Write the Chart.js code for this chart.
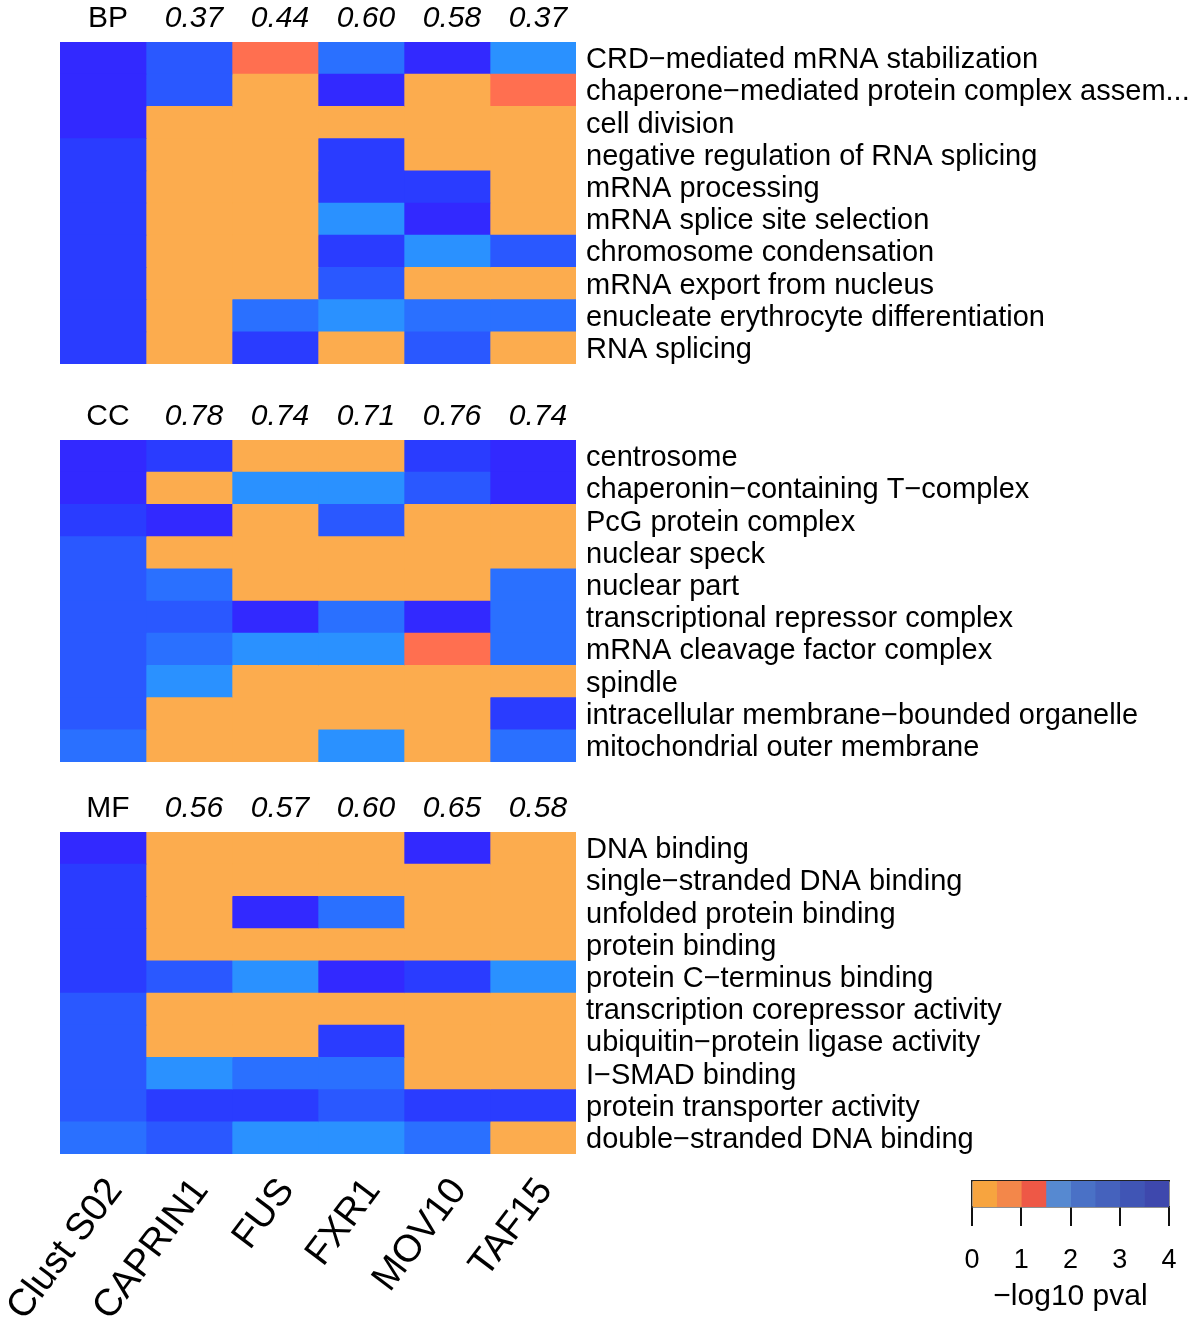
<!DOCTYPE html>
<html>
<head>
<meta charset="utf-8">
<script src="https://cdn.jsdelivr.net/npm/chart.js@4.4.1/dist/chart.umd.min.js"></script>
<style>
  html, body { margin: 0; padding: 0; background: #ffffff; }
  body { width: 1200px; height: 1337px; position: relative; overflow: hidden; }
  .box { position: absolute; }
</style>
</head>
<body>
<div class="box" style="left:0;top:0;width:1200px;height:404px"><canvas id="bp"></canvas></div>
<div class="box" style="left:0;top:398px;width:1200px;height:404px"><canvas id="cc"></canvas></div>
<div class="box" style="left:0;top:790px;width:1200px;height:547px"><canvas id="mf"></canvas></div>
<div class="box" style="left:940px;top:1160px;width:260px;height:177px"><canvas id="legend"></canvas></div>
<script>
// ---- data ----
const columns = ['Clust S02', 'CAPRIN1', 'FUS', 'FXR1', 'MOV10', 'TAF15'];

const bpTerms = [
  'CRD\u2212mediated mRNA stabilization',
  'chaperone\u2212mediated protein complex assem...',
  'cell division',
  'negative regulation of RNA splicing',
  'mRNA processing',
  'mRNA splice site selection',
  'chromosome condensation',
  'mRNA export from nucleus',
  'enucleate erythrocyte differentiation',
  'RNA splicing'
];
const bpHeader = ['BP', '0.37', '0.44', '0.60', '0.58', '0.37'];
// -log10 pval per term (rows) and column
const bpValues = [
  [3.8, 2.7, 1.2, 2.2, 3.8, 1.8],
  [3.8, 2.7, 0.2, 3.8, 0.2, 1.2],
  [3.8, 0.2, 0.2, 0.2, 0.2, 0.2],
  [3.2, 0.2, 0.2, 3.2, 0.2, 0.2],
  [3.2, 0.2, 0.2, 3.2, 3.2, 0.2],
  [3.2, 0.2, 0.2, 1.8, 3.8, 0.2],
  [3.2, 0.2, 0.2, 3.2, 1.8, 2.7],
  [3.2, 0.2, 0.2, 2.7, 0.2, 0.2],
  [3.2, 0.2, 2.2, 1.8, 2.2, 2.2],
  [3.2, 0.2, 3.2, 0.2, 2.7, 0.2]
];

const ccTerms = [
  'centrosome',
  'chaperonin\u2212containing T\u2212complex',
  'PcG protein complex',
  'nuclear speck',
  'nuclear part',
  'transcriptional repressor complex',
  'mRNA cleavage factor complex',
  'spindle',
  'intracellular membrane\u2212bounded organelle',
  'mitochondrial outer membrane'
];
const ccHeader = ['CC', '0.78', '0.74', '0.71', '0.76', '0.74'];
const ccValues = [
  [3.8, 3.2, 0.2, 0.2, 3.2, 3.8],
  [3.8, 0.2, 1.8, 1.8, 2.7, 3.8],
  [3.2, 3.8, 0.2, 2.7, 0.2, 0.2],
  [2.7, 0.2, 0.2, 0.2, 0.2, 0.2],
  [2.7, 2.2, 0.2, 0.2, 0.2, 2.2],
  [2.7, 2.7, 3.8, 2.2, 3.8, 2.2],
  [2.7, 2.2, 1.8, 1.8, 1.2, 2.2],
  [2.7, 1.8, 0.2, 0.2, 0.2, 0.2],
  [2.7, 0.2, 0.2, 0.2, 0.2, 3.2],
  [2.2, 0.2, 0.2, 1.8, 0.2, 2.2]
];

const mfTerms = [
  'DNA binding',
  'single\u2212stranded DNA binding',
  'unfolded protein binding',
  'protein binding',
  'protein C\u2212terminus binding',
  'transcription corepressor activity',
  'ubiquitin\u2212protein ligase activity',
  'I\u2212SMAD binding',
  'protein transporter activity',
  'double\u2212stranded DNA binding'
];
const mfHeader = ['MF', '0.56', '0.57', '0.60', '0.65', '0.58'];
const mfValues = [
  [3.8, 0.2, 0.2, 0.2, 3.8, 0.2],
  [3.2, 0.2, 0.2, 0.2, 0.2, 0.2],
  [3.2, 0.2, 3.8, 2.2, 0.2, 0.2],
  [3.2, 0.2, 0.2, 0.2, 0.2, 0.2],
  [3.2, 2.7, 1.8, 3.8, 3.2, 1.8],
  [2.7, 0.2, 0.2, 0.2, 0.2, 0.2],
  [2.7, 0.2, 0.2, 3.2, 0.2, 0.2],
  [2.7, 1.8, 2.2, 2.2, 0.2, 0.2],
  [2.7, 3.2, 3.2, 2.7, 3.2, 3.2],
  [2.2, 2.7, 1.8, 1.8, 2.2, 0.2]
];

// colour scale: bins of -log10 pval
const binEdges = [0, 0.5, 1, 1.5, 2, 2.5, 3, 3.5, 4];
const cellColors = ['#FCAC4E', '#FE8D4F', '#FF6F50', '#2A91FF', '#2A70FF', '#2A58FF', '#2A3CFF', '#3229FF'];
const legendColors = ['#F7A43F', '#F3874A', '#EE5846', '#5689D1', '#4A71C6', '#4562BD', '#4055B5', '#3E48AD'];
const legendTicks = [0, 1, 2, 3, 4];
const legendTitle = '\u2212log10 pval';

// ---- helpers ----
const FONT = "'Liberation Sans', Arial, Helvetica, sans-serif";
function colorFor(v) {
  for (let i = binEdges.length - 2; i >= 0; i--) {
    if (v >= binEdges[i]) return cellColors[i];
  }
  return cellColors[0];
}

function makePanel(id, terms, header, values, showBottom) {
  const datasets = columns.map((col, j) => ({
    label: col,
    data: terms.map(() => 1),
    backgroundColor: values.map(row => colorFor(row[j])),
    borderWidth: 0,
    categoryPercentage: 1,
    barPercentage: 1
  }));
  const scales = {
    x: { type: 'linear', stacked: true, min: 0, max: columns.length, display: false },
    y: {
      type: 'category', stacked: true, position: 'right', offset: true,
      grid: { display: false, drawTicks: false }, border: { display: false },
      ticks: { color: '#000', font: { family: FONT, size: 29 }, padding: 10, labelOffset: 2, autoSkip: false },
      afterFit: s => { s.width = 624; }
    },
    xTop: {
      type: 'category', labels: header, position: 'top', offset: true,
      grid: { display: false, drawTicks: false }, border: { display: false },
      ticks: {
        color: '#000', padding: 5, labelOffset: 5, autoSkip: false, maxRotation: 0, minRotation: 0,
        font: ctx => ({ family: FONT, size: 30, style: ctx.index === 0 ? 'normal' : 'italic' })
      },
      afterFit: s => { s.height = 42; s.paddingLeft = 0; s.paddingRight = 0; }
    }
  };
  if (showBottom) {
    scales.xBottom = {
      type: 'category', labels: columns, position: 'bottom', offset: true,
      grid: { display: false, drawTicks: false }, border: { display: false },
      ticks: { color: '#000', padding: 16, labelOffset: 12, autoSkip: false, minRotation: 53, maxRotation: 53,
               font: { family: FONT, size: 38 } },
      afterFit: s => { s.height = 183; s.paddingLeft = 0; s.paddingRight = 0; }
    };
  }
  return new Chart(document.getElementById(id), {
    type: 'bar',
    data: { labels: terms, datasets },
    options: {
      indexAxis: 'y',
      responsive: true,
      maintainAspectRatio: false,
      animation: false,
      devicePixelRatio: 1,
      layout: { padding: { left: 60, top: 0, right: 0, bottom: showBottom ? 0 : 40 } },
      plugins: { legend: { display: false }, tooltip: { enabled: false } },
      scales
    }
  });
}

makePanel('bp', bpTerms, bpHeader, bpValues, false);
makePanel('cc', ccTerms, ccHeader, ccValues, false);
makePanel('mf', mfTerms, mfHeader, mfValues, true);

// ---- colour key ----
const binWidths = binEdges.slice(1).map((e, i) => e - binEdges[i]);
new Chart(document.getElementById('legend'), {
  type: 'bar',
  data: {
    labels: [''],
    datasets: binWidths.map((w, i) => ({
      data: [w],
      backgroundColor: legendColors[i],
      borderWidth: 0,
      categoryPercentage: 1,
      barPercentage: 1
    }))
  },
  options: {
    indexAxis: 'y',
    responsive: true,
    maintainAspectRatio: false,
    animation: false,
    devicePixelRatio: 1,
    layout: { padding: { left: 32, top: 21, right: 31, bottom: 0 } },
    plugins: { legend: { display: false }, tooltip: { enabled: false } },
    scales: {
      x: {
        type: 'linear', stacked: true, min: legendTicks[0], max: legendTicks[legendTicks.length - 1],
        position: 'bottom',
        afterBuildTicks: s => { s.ticks = legendTicks.map(v => ({ value: v })); },
        grid: { display: true, drawOnChartArea: false, drawTicks: true, tickLength: 19, color: '#111', lineWidth: 2 },
        border: { display: true, color: '#222', width: 1.5 },
        ticks: { color: '#000', padding: 18, font: { family: FONT, size: 27 }, maxRotation: 0 },
        title: { display: true, text: legendTitle, color: '#000', font: { family: FONT, size: 30 }, padding: { top: 0, bottom: 22 } },
        afterFit: s => { s.height = 130; }
      },
      y: {
        type: 'category', stacked: true, position: 'left', offset: true,
        grid: { display: false }, ticks: { display: false },
        border: { display: true, color: '#222', width: 1.5 },
        afterFit: s => { s.width = 0; }
      },
      xTop: {
        type: 'linear', position: 'top', min: 0, max: 4,
        grid: { display: false }, ticks: { display: false },
        border: { display: true, color: '#222', width: 1.5 },
        afterFit: s => { s.height = 0; }
      },
      yRight: {
        type: 'linear', position: 'right', min: 0, max: 1,
        grid: { display: false }, ticks: { display: false },
        border: { display: true, color: '#222', width: 1.5 },
        afterFit: s => { s.width = 0; }
      }
    }
  }
});
</script>
</body>
</html>
